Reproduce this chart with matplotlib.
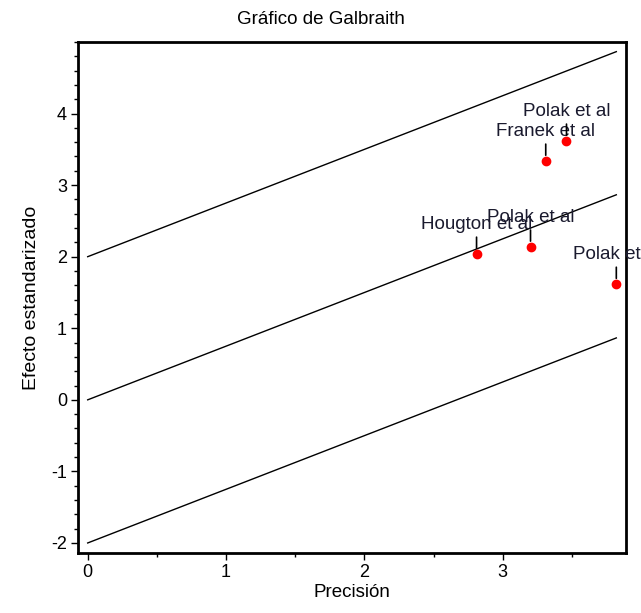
import matplotlib
matplotlib.use("Agg")
import matplotlib.pyplot as plt
from matplotlib.ticker import MultipleLocator

plt.rcParams.update({"font.family": ["Liberation Sans", "DejaVu Sans"], "font.size": 13,
                     "axes.unicode_minus": False})

# studies: precision (1/se) and standardised effect
studies = ["Hougton et al", "Polak et al", "Franek et al", "Polak et al", "Polak et al"]
precision = [2.81, 3.20, 3.31, 3.46, 3.82]
effect = [2.04, 2.14, 3.34, 3.62, 1.62]

slope = 0.75            # pooled effect (line through origin)
band_offsets = [-2, 0, 2]

fig = plt.figure(figsize=(6.41, 6.13), dpi=100)
ax = fig.add_axes([0.1217, 0.0979, 0.8549, 0.8336])

xmax = max(precision)
for c in band_offsets:
    ax.plot([0, xmax], [c, c + slope * xmax], color="black", lw=1)

ax.plot(precision, effect, "o", color="red", ms=6, mec="red", zorder=3)
for name, x, y in zip(studies, precision, effect):
    ax.annotate(name, (x, y), xytext=(0, 15), textcoords="offset points",
                ha="center", va="bottom", fontsize=13.5, color="#1a1a2e",
                annotation_clip=False,
                arrowprops=dict(arrowstyle="-", color="black", lw=1.2,
                                shrinkA=1, shrinkB=4))

ax.set_xlim(-0.07, 3.89)
ax.set_ylim(-2.14, 5.0)
ax.set_xticks([0, 1, 2, 3])
ax.set_yticks([-2, -1, 0, 1, 2, 3, 4])
ax.xaxis.set_minor_locator(MultipleLocator(0.5))
ax.yaxis.set_minor_locator(MultipleLocator(0.2))
ax.tick_params(which="major", direction="out", length=5, width=1, pad=3)
ax.tick_params(which="minor", direction="out", length=3, width=1)
for s in ax.spines.values():
    s.set_linewidth(2)

ax.set_xlabel("Precisión", labelpad=2, fontsize=13.5)
ax.set_ylabel("Efecto estandarizado", labelpad=8, fontsize=14)
fig.text(0.5, 0.968, "Gráfico de Galbraith", ha="center", va="center", fontsize=13.5)

fig.savefig("out.png", dpi=100)
